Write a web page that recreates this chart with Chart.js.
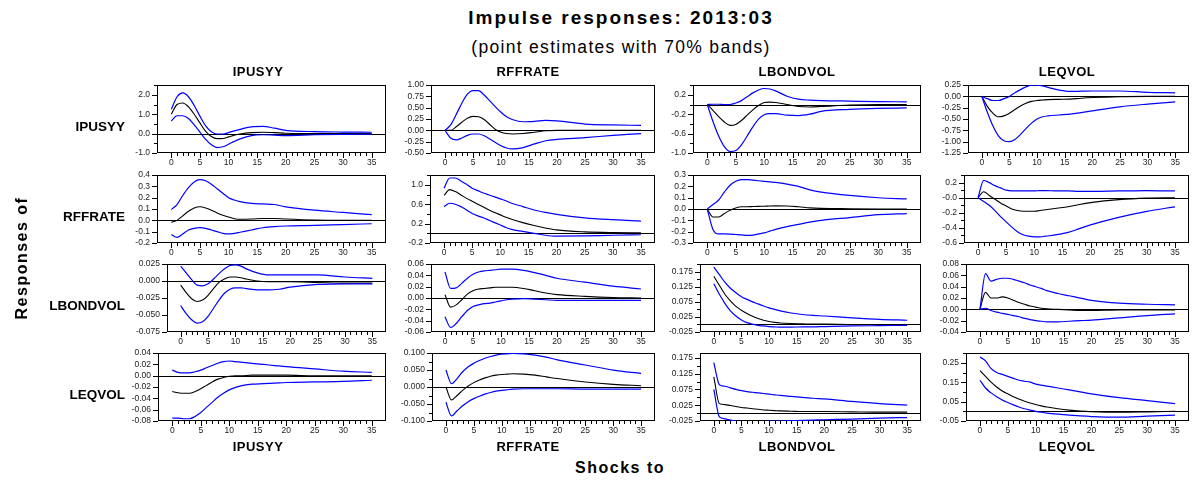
<!DOCTYPE html>
<html>
<head>
<meta charset="utf-8">
<script src="https://cdn.jsdelivr.net/npm/chart.js@4.4.1/dist/chart.umd.min.js"></script>
<style>
  body { margin: 0; background: #fff; }
  #page { position: relative; width: 1193px; height: 483px; overflow: hidden; background: #fff;
          font-family: 'Liberation Sans', Arial, sans-serif; color: #000; }
  .txt { position: absolute; white-space: nowrap; font-weight: bold; transform: translate(-50%, -50%); }
  .row { position: absolute; white-space: nowrap; font-weight: bold; font-size: 13.5px; transform: translate(-100%, -50%); }
  canvas { position: absolute; }
</style>
</head>
<body>
<div id="page"></div>
<script>
const horizons = [0, 1, 2, 3, 4, 5, 6, 7, 8, 9, 10, 11, 12, 14, 16, 18, 20, 25, 30, 35];
const horizonTicks = ['0', '5', '10', '15', '20', '25', '30', '35'];
const variables = ['IPUSYY', 'RFFRATE', 'LBONDVOL', 'LEQVOL'];

// naming: <response><Shock><Lo|Pt|Hi>, ip = IPUSYY, ff = RFFRATE, bv = LBONDVOL, ev = LEQVOL

// response of IPUSYY
const ipIpHi = [1.25, 1.9, 2.1, 1.9, 1.45, 0.9, 0.4, 0.1, -0.02, -0.02, 0.05, 0.14, 0.22, 0.35, 0.37, 0.28, 0.17, 0.1, 0.08, 0.07];
const ipIpPt = [1.0, 1.5, 1.58, 1.38, 1.0, 0.55, 0.12, -0.15, -0.26, -0.25, -0.17, -0.08, -0.02, 0.05, 0.07, 0.05, 0.02, 0.0, 0.0, 0.0];
const ipIpLo = [0.65, 0.92, 0.92, 0.78, 0.45, 0.08, -0.3, -0.58, -0.72, -0.68, -0.55, -0.4, -0.27, -0.1, -0.06, -0.08, -0.1, -0.06, -0.04, -0.03];

const ipFfHi = [0, 0.12, 0.35, 0.6, 0.8, 0.88, 0.88, 0.78, 0.65, 0.52, 0.4, 0.3, 0.24, 0.19, 0.2, 0.22, 0.21, 0.14, 0.12, 0.11];
const ipFfPt = [0, 0.0, 0.08, 0.18, 0.27, 0.31, 0.3, 0.24, 0.13, 0.02, -0.04, -0.07, -0.08, -0.07, -0.04, -0.01, 0.0, 0.0, 0.0, 0.0];
const ipFfLo = [0, -0.17, -0.21, -0.17, -0.11, -0.08, -0.08, -0.12, -0.19, -0.27, -0.34, -0.39, -0.41, -0.38, -0.3, -0.23, -0.2, -0.16, -0.11, -0.07];

const ipBvHi = [0, 0.005, 0.005, 0.0, 0.0, 0.03, 0.08, 0.16, 0.24, 0.3, 0.33, 0.32, 0.28, 0.17, 0.11, 0.09, 0.08, 0.07, 0.06, 0.055];
const ipBvPt = [0, -0.12, -0.25, -0.36, -0.43, -0.41, -0.33, -0.22, -0.11, -0.02, 0.04, 0.05, 0.04, 0.0, -0.04, -0.05, -0.04, -0.01, 0.0, 0.0];
const ipBvLo = [0, -0.35, -0.65, -0.87, -0.97, -0.95, -0.83, -0.65, -0.46, -0.3, -0.21, -0.19, -0.19, -0.22, -0.23, -0.2, -0.14, -0.1, -0.08, -0.07];

const ipEvHi = [0, -0.05, -0.09, -0.09, -0.05, 0.0, 0.08, 0.15, 0.21, 0.25, 0.25, 0.23, 0.2, 0.14, 0.11, 0.115, 0.12, 0.12, 0.09, 0.08];
const ipEvPt = [0, -0.22, -0.37, -0.45, -0.43, -0.37, -0.29, -0.21, -0.15, -0.11, -0.09, -0.08, -0.07, -0.065, -0.06, -0.04, -0.025, -0.005, 0.0, 0.0];
const ipEvLo = [0, -0.35, -0.65, -0.87, -0.98, -1.0, -0.95, -0.84, -0.71, -0.59, -0.5, -0.45, -0.43, -0.41, -0.39, -0.36, -0.32, -0.23, -0.17, -0.12];

// response of RFFRATE
const ffIpHi = [0.095, 0.14, 0.22, 0.29, 0.34, 0.36, 0.35, 0.32, 0.28, 0.24, 0.2, 0.18, 0.165, 0.15, 0.145, 0.14, 0.12, 0.09, 0.07, 0.05];
const ffIpPt = [-0.018, 0.0, 0.04, 0.08, 0.11, 0.12, 0.11, 0.09, 0.065, 0.045, 0.03, 0.015, 0.01, 0.012, 0.017, 0.017, 0.012, 0.003, 0.0, 0.0];
const ffIpLo = [-0.125, -0.15, -0.12, -0.085, -0.07, -0.065, -0.07, -0.085, -0.1, -0.115, -0.12, -0.115, -0.105, -0.085, -0.065, -0.055, -0.05, -0.045, -0.037, -0.03];

const ffFfHi = [0.93, 1.14, 1.14, 1.08, 1.01, 0.93, 0.88, 0.83, 0.79, 0.75, 0.71, 0.67, 0.62, 0.55, 0.48, 0.43, 0.39, 0.32, 0.28, 0.25];
const ffFfPt = [0.78, 0.9, 0.86, 0.79, 0.72, 0.66, 0.6, 0.54, 0.48, 0.43, 0.38, 0.33, 0.29, 0.22, 0.16, 0.11, 0.07, 0.03, 0.015, 0.01];
const ffFfLo = [0.55, 0.62, 0.6, 0.55, 0.48, 0.41, 0.36, 0.32, 0.27, 0.22, 0.17, 0.12, 0.08, 0.04, 0.0, -0.04, -0.06, -0.055, -0.04, -0.03];

const ffBvHi = [0, 0.04, 0.08, 0.15, 0.21, 0.245, 0.26, 0.26, 0.255, 0.25, 0.245, 0.24, 0.235, 0.22, 0.2, 0.17, 0.15, 0.12, 0.1, 0.09];
const ffBvPt = [0, -0.07, -0.07, -0.04, -0.01, 0.01, 0.02, 0.02, 0.022, 0.024, 0.025, 0.027, 0.028, 0.027, 0.02, 0.01, 0.006, 0.003, 0.001, 0.0];
const ffBvLo = [0, -0.18, -0.22, -0.22, -0.222, -0.225, -0.228, -0.232, -0.23, -0.22, -0.21, -0.195, -0.18, -0.155, -0.135, -0.115, -0.1, -0.075, -0.05, -0.04];

const ffEvHi = [0, 0.23, 0.2, 0.16, 0.13, 0.1, 0.09, 0.09, 0.09, 0.09, 0.09, 0.095, 0.095, 0.09, 0.09, 0.085, 0.085, 0.09, 0.095, 0.09];
const ffEvPt = [0, 0.08, 0.03, -0.02, -0.07, -0.11, -0.15, -0.17, -0.18, -0.18, -0.18, -0.17, -0.16, -0.14, -0.12, -0.09, -0.065, -0.025, -0.005, 0.0];
const ffEvLo = [0, -0.05, -0.1, -0.17, -0.25, -0.32, -0.39, -0.45, -0.49, -0.51, -0.52, -0.52, -0.51, -0.49, -0.46, -0.41, -0.36, -0.26, -0.18, -0.12];

// response of LBONDVOL
const bvIpHi = [0.022, 0.012, 0.002, -0.006, -0.007, -0.004, 0.003, 0.011, 0.018, 0.023, 0.024, 0.022, 0.018, 0.012, 0.009, 0.009, 0.009, 0.009, 0.006, 0.004];
const bvIpPt = [-0.006, -0.017, -0.026, -0.03, -0.028, -0.021, -0.011, -0.002, 0.003, 0.006, 0.006, 0.005, 0.003, 0.0, -0.001, -0.001, -0.001, -0.002, -0.003, -0.003];
const bvIpLo = [-0.036, -0.048, -0.057, -0.062, -0.06, -0.052, -0.04, -0.028, -0.018, -0.012, -0.01, -0.01, -0.011, -0.013, -0.013, -0.012, -0.009, -0.005, -0.004, -0.004];

const bvFfHi = [0.046, 0.017, 0.018, 0.026, 0.035, 0.042, 0.046, 0.048, 0.049, 0.05, 0.051, 0.051, 0.051, 0.049, 0.045, 0.04, 0.035, 0.028, 0.021, 0.016];
const bvFfPt = [0.006, -0.016, -0.012, -0.003, 0.007, 0.013, 0.016, 0.017, 0.018, 0.019, 0.019, 0.019, 0.019, 0.017, 0.013, 0.009, 0.006, 0.003, 0.001, 0.0];
const bvFfLo = [-0.033, -0.052, -0.045, -0.033, -0.022, -0.015, -0.012, -0.01, -0.009, -0.007, -0.005, -0.003, -0.002, -0.001, -0.002, -0.003, -0.004, -0.004, -0.004, -0.004];

const bvBvHi = [0.19, 0.165, 0.14, 0.12, 0.105, 0.092, 0.083, 0.075, 0.068, 0.061, 0.055, 0.05, 0.045, 0.038, 0.033, 0.03, 0.028, 0.022, 0.017, 0.014];
const bvBvPt = [0.16, 0.13, 0.1, 0.078, 0.06, 0.047, 0.036, 0.027, 0.02, 0.014, 0.01, 0.007, 0.005, 0.003, 0.002, 0.001, 0.001, 0.0, 0.0, 0.0];
const bvBvLo = [0.135, 0.1, 0.07, 0.045, 0.028, 0.015, 0.006, 0.001, -0.003, -0.005, -0.007, -0.008, -0.009, -0.009, -0.008, -0.008, -0.007, -0.005, -0.004, -0.003];

const bvEvHi = [0.0, 0.063, 0.05, 0.053, 0.055, 0.055, 0.053, 0.05, 0.047, 0.043, 0.04, 0.037, 0.033, 0.028, 0.024, 0.02, 0.016, 0.011, 0.009, 0.008];
const bvEvPt = [0, 0.03, 0.02, 0.02, 0.022, 0.02, 0.016, 0.012, 0.009, 0.006, 0.004, 0.002, 0.001, 0.0, -0.001, -0.002, -0.002, -0.001, -0.001, -0.001];
const bvEvLo = [0, 0.002, -0.002, -0.005, -0.007, -0.009, -0.011, -0.013, -0.016, -0.018, -0.02, -0.021, -0.022, -0.022, -0.021, -0.02, -0.019, -0.015, -0.011, -0.008];

// response of LEQVOL
const evIpHi = [0.01, 0.006, 0.005, 0.005, 0.007, 0.01, 0.014, 0.018, 0.022, 0.025, 0.026, 0.025, 0.024, 0.022, 0.02, 0.018, 0.016, 0.012, 0.008, 0.006];
const evIpPt = [-0.028, -0.03, -0.031, -0.031, -0.028, -0.023, -0.017, -0.011, -0.006, -0.003, -0.001, 0.0, 0.0, 0.001, 0.001, 0.001, 0.001, 0.0, 0.0, 0.0];
const evIpLo = [-0.075, -0.075, -0.076, -0.076, -0.072, -0.065, -0.056, -0.047, -0.038, -0.031, -0.025, -0.021, -0.018, -0.015, -0.014, -0.013, -0.012, -0.011, -0.01, -0.008];

const evFfHi = [0.05, 0.01, 0.025, 0.045, 0.06, 0.07, 0.078, 0.085, 0.09, 0.094, 0.097, 0.098, 0.099, 0.098, 0.094, 0.088, 0.08, 0.065, 0.05, 0.04];
const evFfPt = [0.0, -0.038, -0.025, -0.01, 0.003, 0.013, 0.021, 0.027, 0.032, 0.035, 0.037, 0.038, 0.039, 0.038, 0.035, 0.03, 0.025, 0.015, 0.008, 0.004];
const evFfLo = [-0.045, -0.085, -0.07, -0.055, -0.043, -0.034, -0.027, -0.021, -0.016, -0.012, -0.01, -0.008, -0.006, -0.005, -0.005, -0.005, -0.005, -0.006, -0.006, -0.006];

const evBvHi = [0.16, 0.09, 0.085, 0.08, 0.075, 0.071, 0.068, 0.066, 0.064, 0.062, 0.06, 0.058, 0.056, 0.053, 0.05, 0.047, 0.045, 0.037, 0.03, 0.025];
const evBvPt = [0.115, 0.03, 0.027, 0.024, 0.021, 0.018, 0.016, 0.014, 0.012, 0.01, 0.009, 0.008, 0.007, 0.006, 0.005, 0.005, 0.005, 0.004, 0.003, 0.003];
const evBvLo = [0.075, -0.012, -0.018, -0.022, -0.025, -0.027, -0.028, -0.028, -0.028, -0.027, -0.026, -0.025, -0.025, -0.024, -0.023, -0.022, -0.021, -0.019, -0.016, -0.014];

const evEvHi = [0.28, 0.26, 0.22, 0.2, 0.19, 0.18, 0.17, 0.16, 0.155, 0.15, 0.14, 0.135, 0.13, 0.12, 0.11, 0.1, 0.09, 0.07, 0.055, 0.04];
const evEvPt = [0.21, 0.18, 0.15, 0.125, 0.105, 0.09, 0.075, 0.063, 0.052, 0.043, 0.035, 0.028, 0.022, 0.013, 0.006, 0.001, -0.002, -0.005, -0.003, 0.0];
const evEvLo = [0.16, 0.12, 0.095, 0.075, 0.058, 0.045, 0.033, 0.022, 0.013, 0.006, 0.0, -0.005, -0.009, -0.015, -0.02, -0.024, -0.027, -0.03, -0.025, -0.02];

// y tick labels per panel, bottom to top
const ipIpTicks = ['-1.0', '0.0', '1.0', '2.0'];
const ipFfTicks = ['-0.50', '-0.25', '0.00', '0.25', '0.50', '0.75', '1.00'];
const ipBvTicks = ['-1.0', '-0.6', '-0.2', '0.2'];
const ipEvTicks = ['-1.25', '-1.00', '-0.75', '-0.50', '-0.25', '0.00', '0.25'];
const ffIpTicks = ['-0.2', '-0.1', '0.0', '0.1', '0.2', '0.3', '0.4'];
const ffFfTicks = ['-0.2', '0.2', '0.6', '1.0'];
const ffBvTicks = ['-0.3', '-0.2', '-0.1', '0.0', '0.1', '0.2', '0.3'];
const ffEvTicks = ['-0.6', '-0.4', '-0.2', '-0.0', '0.2'];
const bvIpTicks = ['-0.075', '-0.050', '-0.025', '0.000', '0.025'];
const bvFfTicks = ['-0.06', '-0.04', '-0.02', '0.00', '0.02', '0.04', '0.06'];
const bvBvTicks = ['-0.025', '0.025', '0.075', '0.125', '0.175'];
const bvEvTicks = ['-0.04', '-0.02', '0.00', '0.02', '0.04', '0.06', '0.08'];
const evIpTicks = ['-0.08', '-0.06', '-0.04', '-0.02', '0.00', '0.02', '0.04'];
const evFfTicks = ['-0.100', '-0.050', '0.000', '0.050', '0.100'];
const evBvTicks = ['-0.025', '0.025', '0.075', '0.125', '0.175'];
const evEvTicks = ['-0.05', '0.05', '0.15', '0.25'];

// panels row by row (response), column by column (shock)
const panels = [
  [
    { lo: ipIpLo, pt: ipIpPt, hi: ipIpHi, ticks: ipIpTicks, max: 2.5, minor: 2 },
    { lo: ipFfLo, pt: ipFfPt, hi: ipFfHi, ticks: ipFfTicks, max: 1.0, minor: 1 },
    { lo: ipBvLo, pt: ipBvPt, hi: ipBvHi, ticks: ipBvTicks, max: 0.4, minor: 2 },
    { lo: ipEvLo, pt: ipEvPt, hi: ipEvHi, ticks: ipEvTicks, max: 0.25, minor: 1 },
  ],
  [
    { lo: ffIpLo, pt: ffIpPt, hi: ffIpHi, ticks: ffIpTicks, max: 0.4, minor: 1 },
    { lo: ffFfLo, pt: ffFfPt, hi: ffFfHi, ticks: ffFfTicks, max: 1.2, minor: 2 },
    { lo: ffBvLo, pt: ffBvPt, hi: ffBvHi, ticks: ffBvTicks, max: 0.3, minor: 1 },
    { lo: ffEvLo, pt: ffEvPt, hi: ffEvHi, ticks: ffEvTicks, max: 0.3, minor: 2 },
  ],
  [
    { lo: bvIpLo, pt: bvIpPt, hi: bvIpHi, ticks: bvIpTicks, max: 0.025, minor: 1 },
    { lo: bvFfLo, pt: bvFfPt, hi: bvFfHi, ticks: bvFfTicks, max: 0.06, minor: 1 },
    { lo: bvBvLo, pt: bvBvPt, hi: bvBvHi, ticks: bvBvTicks, max: 0.2, minor: 2 },
    { lo: bvEvLo, pt: bvEvPt, hi: bvEvHi, ticks: bvEvTicks, max: 0.08, minor: 1 },
  ],
  [
    { lo: evIpLo, pt: evIpPt, hi: evIpHi, ticks: evIpTicks, max: 0.04, minor: 1 },
    { lo: evFfLo, pt: evFfPt, hi: evFfHi, ticks: evFfTicks, max: 0.1, minor: 2 },
    { lo: evBvLo, pt: evBvPt, hi: evBvHi, ticks: evBvTicks, max: 0.19, minor: 2 },
    { lo: evEvLo, pt: evEvPt, hi: evEvHi, ticks: evEvTicks, max: 0.3, minor: 2 },
  ],
];

// layout of the grid in page pixels
const rowTop = [85, 175, 264, 353];
const plotH = 68;
const plotLeft = [
  [157, 431, 693, 968],
  [157, 430, 693, 964],
  [167, 431, 700, 966],
  [158, 432, 700, 966],
];
const plotRight = [386, 655, 921, 1189];
const headerX = [258, 528, 797, 1067];
const AXIS_W = 45;
const AXIS_H = 20;

const BLUE = '#0000ff';
Chart.defaults.font.family = "'Liberation Sans', Arial, sans-serif";

const page = document.getElementById('page');

const addText = (cls, text, x, y, style) => {
  const d = document.createElement('div');
  d.className = cls;
  d.textContent = text;
  d.style.left = x + 'px';
  d.style.top = y + 'px';
  Object.assign(d.style, style || {});
  page.appendChild(d);
  return d;
};

// frame, zero line and the tick marks RATS-style (major + minor)
const frame = {
  id: 'frame',
  beforeDatasetsDraw(chart, args, opts) {
    const { ctx, chartArea: a, scales: { x, y } } = chart;
    const l = Math.round(a.left), r = Math.round(a.right);
    const t = Math.round(a.top), b = Math.round(a.bottom);
    ctx.save();
    ctx.strokeStyle = '#000';
    ctx.lineWidth = 1;
    ctx.beginPath();
    const z = Math.round(y.getPixelForValue(0)) + 0.5;
    ctx.moveTo(l, z);
    ctx.lineTo(r, z);
    for (let h = 0; h <= 35; h++) {
      const px = Math.round(x.getPixelForValue(h)) + 0.5;
      ctx.moveTo(px, b);
      ctx.lineTo(px, b + (h % 5 === 0 ? 5 : 3));
    }
    const vals = opts.ticks.map(Number);
    const sub = (vals[1] - vals[0]) / opts.minor;
    for (let k = 0; ; k++) {
      const v = vals[0] + k * sub;
      if (v > y.max + 1e-9) break;
      const py = Math.round(y.getPixelForValue(v)) + 0.5;
      ctx.moveTo(l, py);
      ctx.lineTo(l - (k % opts.minor === 0 ? 5 : 3), py);
    }
    ctx.stroke();
    ctx.strokeRect(l + 0.5, t + 0.5, r - l - 1, b - t - 1);
    ctx.restore();
  },
};

const series = (vals) => vals.map((v, i) => ({ x: horizons[i], y: v }));

const tickFont = { size: 8.5 };

const config = (p) => ({
  type: 'line',
  data: {
    datasets: [
      { data: series(p.lo), borderColor: BLUE, borderWidth: 1.2 },
      { data: series(p.hi), borderColor: BLUE, borderWidth: 1.2 },
      { data: series(p.pt), borderColor: '#000', borderWidth: 1.1 },
    ],
  },
  options: {
    responsive: false,
    maintainAspectRatio: false,
    animation: false,
    events: [],
    layout: { padding: { top: 0, right: 1, bottom: 0, left: 0 } },
    elements: {
      point: { radius: 0 },
      line: { cubicInterpolationMode: 'monotone', fill: false },
    },
    plugins: {
      legend: { display: false },
      tooltip: { enabled: false },
      frame: { ticks: p.ticks, minor: p.minor },
    },
    scales: {
      x: {
        type: 'linear',
        min: -2.5,
        max: 37.5,
        afterBuildTicks: (s) => { s.ticks = horizonTicks.map((t) => ({ value: Number(t) })); },
        afterFit: (s) => { s.height = AXIS_H; },
        ticks: {
          autoSkip: false, maxRotation: 0, padding: 5, color: '#222', font: tickFont,
          callback: (v, i) => horizonTicks[i],
        },
        grid: { display: false, drawTicks: false },
        border: { display: false },
      },
      y: {
        type: 'linear',
        min: Number(p.ticks[0]),
        max: p.max,
        afterBuildTicks: (s) => { s.ticks = p.ticks.map((t) => ({ value: Number(t) })); },
        afterFit: (s) => { s.width = AXIS_W; },
        ticks: {
          autoSkip: false, padding: 7, color: '#222', font: tickFont,
          callback: (v, i) => p.ticks[i],
        },
        grid: { display: false, drawTicks: false },
        border: { display: false },
      },
    },
  },
  plugins: [frame],
});

const makeCanvas = (left, top, width, height) => {
  const canvas = document.createElement('canvas');
  canvas.width = width;
  canvas.height = height;
  canvas.style.left = left + 'px';
  canvas.style.top = top + 'px';
  page.appendChild(canvas);
  return canvas;
};

panels.forEach((row, ri) => {
  row.forEach((p, ci) => {
    const left = plotLeft[ri][ci] - AXIS_W;
    const width = plotRight[ci] - plotLeft[ri][ci] + AXIS_W + 1;
    // first pass: find where Chart.js puts the plot area, then size the canvas to fit
    const probeH = plotH + 40;
    const probe = makeCanvas(left, 0, width, probeH);
    const probeChart = new Chart(probe, config(p));
    const a = probeChart.chartArea;
    const topOff = a.top;
    const below = probeH - a.bottom;
    probeChart.destroy();
    probe.remove();

    const canvas = makeCanvas(left, rowTop[ri] - topOff, width, Math.round(topOff + plotH + below));
    new Chart(canvas, config(p));
  });
});

// titles and labels
addText('txt', 'Impulse responses: 2013:03', 621, 18, { fontSize: '19px', letterSpacing: '2px' });
addText('txt', '(point estimates with 70% bands)', 621, 47, { fontSize: '17.5px', fontWeight: 'normal', letterSpacing: '1.3px' });
variables.forEach((v, i) => {
  addText('txt', v, headerX[i], 71, { fontSize: '13px', letterSpacing: '0.5px' });
  addText('txt', v, headerX[i], 446, { fontSize: '13px', letterSpacing: '0.5px' });
  addText('row', v, 125, rowTop[i] + 41);
});
addText('txt', 'Shocks to', 620, 468, { fontSize: '16px', letterSpacing: '1.5px' });
addText('txt', 'Responses of', 22, 258, { fontSize: '16px', letterSpacing: '1.5px', transform: 'translate(-50%, -50%) rotate(-90deg)' });
</script>
</body>
</html>
